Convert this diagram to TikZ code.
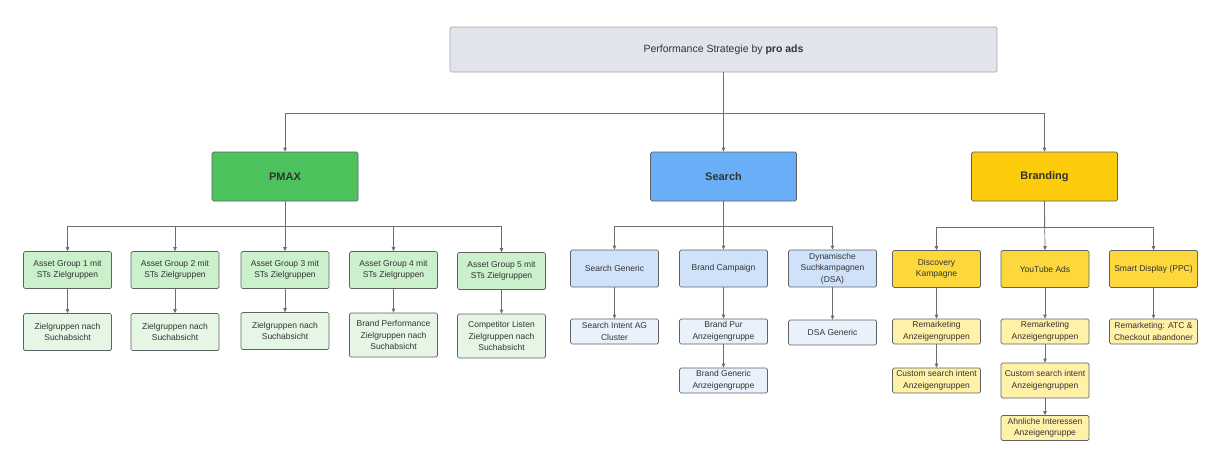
\documentclass[tikz,border=0pt]{standalone}
\usepackage{fontspec}
\setmainfont{Liberation Sans}
\usetikzlibrary{arrows.meta, positioning}
\definecolor{topgray}{HTML}{E1E4EA}
\definecolor{pmaxgreen}{HTML}{4EC25C}
\definecolor{searchblue}{HTML}{6BAEF8}
\definecolor{brandyellow}{HTML}{FCCC0C}
\definecolor{aggreen}{HTML}{CBF0CC}
\definecolor{leafgreen}{HTML}{E5F6E4}
\definecolor{subblue}{HTML}{D0E2FA}
\definecolor{leafblue}{HTML}{EAF1FB}
\definecolor{subyellow}{HTML}{FCD83C}
\definecolor{leafyellow}{HTML}{FFF1A8}
\definecolor{boxline}{HTML}{5F6368}
\definecolor{linegray}{HTML}{6E6E6E}
\definecolor{textgray}{HTML}{333333}
\tikzstyle{box} = [draw=boxline, rounded corners=1.5pt, align=center, text=textgray, inner sep=1pt, font=\fontsize{8.5}{11.5}\selectfont]
\tikzstyle{main} = [box, minimum width=146pt, minimum height=49pt, font=\fontsize{11}{13}\selectfont\bfseries]
\tikzstyle{sub} = [box, minimum width=88pt, minimum height=37pt]
\tikzstyle{leaf} = [box, minimum width=88pt, minimum height=25pt]

\begin{document}
\begin{tikzpicture}[x=1pt, y=-1pt, >={Triangle[length=4pt, width=3.5pt]}, line width=0.7pt]
  \useasboundingbox[fill=white] (0,0) rectangle (1215,450);

  \node[box, draw=gray!70, fill=topgray, minimum width=547pt, minimum height=45pt, font=\fontsize{10.5}{13}\selectfont] (top) at (723.5,49.5) {Performance Strategie by \textbf{pro ads}};

  \node[main, fill=pmaxgreen] (pmax) at (285,176.5) {PMAX};
  \node[main, fill=searchblue] (search) at (723.5,176.5) {Search};
  \node[main, fill=brandyellow] (branding) at (1044.5,176.5) {Branding};

  % PMAX
  \node[sub, fill=aggreen] (ag1) at (67.5,270) {Asset Group 1 mit\\STs Zielgruppen};
  \node[sub, fill=aggreen] (ag2) at (175,270) {Asset Group 2 mit\\STs Zielgruppen};
  \node[sub, fill=aggreen] (ag3) at (285,270) {Asset Group 3 mit\\STs Zielgruppen};
  \node[sub, fill=aggreen] (ag4) at (393.5,270) {Asset Group 4 mit\\STs Zielgruppen};
  \node[sub, fill=aggreen] (ag5) at (501.5,271) {Asset Group 5 mit\\STs Zielgruppen};
  \node[sub, fill=leafgreen] (zg1) at (67.5,332) {Zielgruppen nach\\Suchabsicht};
  \node[sub, fill=leafgreen] (zg2) at (175,332) {Zielgruppen nach\\Suchabsicht};
  \node[sub, fill=leafgreen] (zg3) at (285,331) {Zielgruppen nach\\Suchabsicht};
  \node[sub, fill=leafgreen, minimum height=44pt] (zg4) at (393.5,335) {Brand Performance\\Zielgruppen nach\\Suchabsicht};
  \node[sub, fill=leafgreen, minimum height=44pt] (zg5) at (501.5,336) {Competitor Listen\\Zielgruppen nach\\Suchabsicht};

  % Search
  \node[sub, fill=subblue] (sgen) at (614.5,268.5) {Search Generic};
  \node[sub, fill=subblue] (bcamp) at (723.5,268.5) {Brand Campaign};
  \node[sub, fill=subblue] (dsa) at (832.5,268.5) {Dynamische\\Suchkampagnen\\(DSA)};
  \node[leaf, fill=leafblue] (intent) at (614.5,331.5) {Search Intent AG\\Cluster};
  \node[leaf, fill=leafblue] (bpur) at (723.5,331.5) {Brand Pur\\Anzeigengruppe};
  \node[leaf, fill=leafblue] (bgen) at (723.5,380.5) {Brand Generic\\Anzeigengruppe};
  \node[leaf, fill=leafblue] (dsagen) at (832.5,332.5) {DSA Generic};

  % Branding
  \node[sub, fill=subyellow] (disc) at (936.5,269) {Discovery\\Kampagne};
  \node[sub, fill=subyellow] (yt) at (1045,269) {YouTube Ads};
  \node[sub, fill=subyellow] (smart) at (1153.5,269) {Smart Display (PPC)};
  \node[leaf, fill=leafyellow] (rm1) at (936.5,331.5) {Remarketing\\Anzeigengruppen};
  \node[leaf, fill=leafyellow] (csi1) at (936.5,380.5) {Custom search intent\\Anzeigengruppen};
  \node[leaf, fill=leafyellow] (rm2) at (1045,331.5) {Remarketing\\Anzeigengruppen};
  \node[leaf, fill=leafyellow, minimum height=35pt] (csi2) at (1045,380.5) {Custom search intent\\Anzeigengruppen};
  \node[leaf, fill=leafyellow] (ahn) at (1045,428) {Ahnliche Interessen\\Anzeigengruppe};
  \node[leaf, fill=leafyellow] (rm3) at (1153.5,331.5) {Remarketing: ATC \&\\Checkout abandoner};

  \begin{scope}[draw=linegray]
    \draw[->] (top.south) -- ++(0,41) -| (pmax.north);
    \draw[->] (top.south) -- (search.north);
    \draw[->] (top.south) -- ++(0,41) -| (branding.north);

    \draw[->] (pmax.south) -- ++(0,25) -| (ag1.north);
    \draw[->] (pmax.south) -- ++(0,25) -| (ag2.north);
    \draw[->] (pmax.south) -- (ag3.north);
    \draw[->] (pmax.south) -- ++(0,25) -| (ag4.north);
    \draw[->] (pmax.south) -- ++(0,25) -| (ag5.north);
    \draw[->] (ag1) -- (zg1);
    \draw[->] (ag2) -- (zg2);
    \draw[->] (ag3) -- (zg3);
    \draw[->] (ag4) -- (zg4);
    \draw[->] (ag5) -- (zg5);

    \draw[->] (search.south) -- ++(0,25) -| (sgen.north);
    \draw[->] (search.south) -- (bcamp.north);
    \draw[->] (search.south) -- ++(0,25) -| (dsa.north);
    \draw[->] (sgen) -- (intent);
    \draw[->] (bcamp) -- (bpur);
    \draw[->] (bpur) -- (bgen);
    \draw[->] (dsa) -- (dsagen);

    \draw[->] (branding.south) -- ++(0,26) -| (disc.north);
    \draw[->] (branding.south) -- (yt.north);
    \draw[->] (branding.south) -- ++(0,26) -| (smart.north);
    \draw[->] (disc) -- (rm1);
    \draw[->] (rm1) -- (csi1);
    \draw[->] (yt) -- (rm2);
    \draw[->] (rm2) -- (csi2);
    \draw[->] (csi2) -- (ahn);
    \draw[->] (smart) -- (rm3);
  \end{scope}

\end{tikzpicture}
\end{document}
